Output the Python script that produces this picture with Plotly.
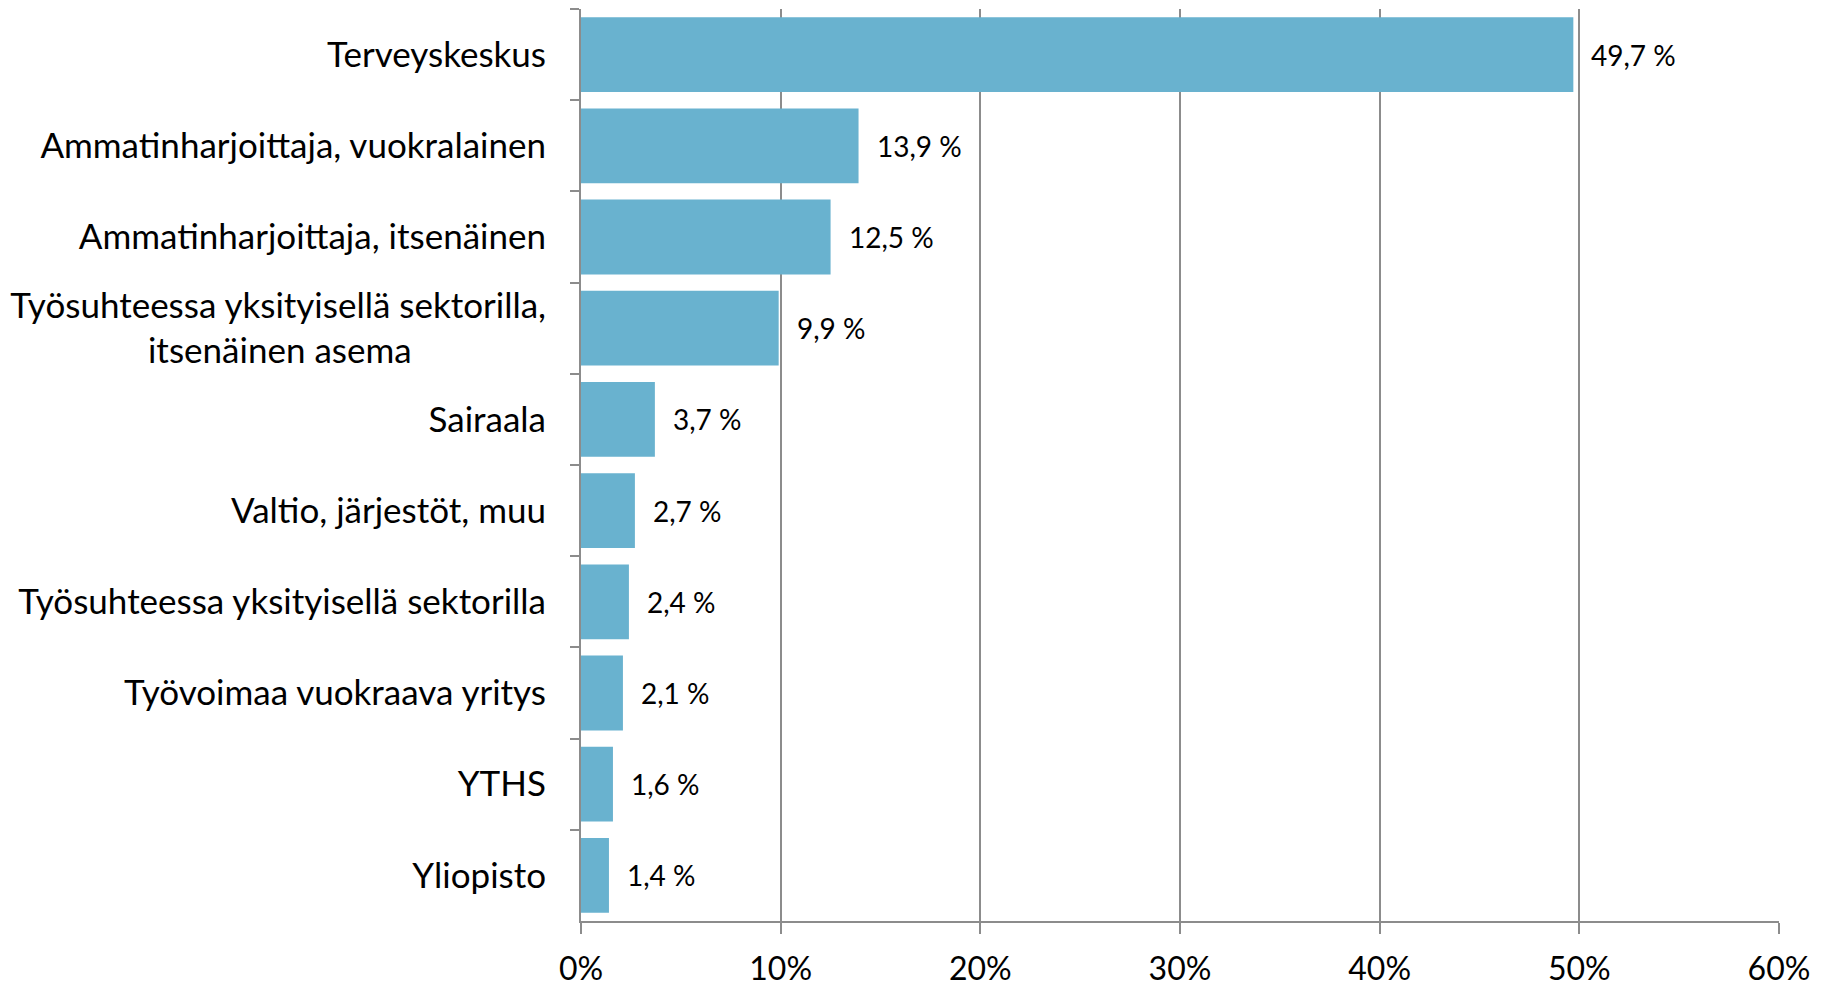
import plotly.graph_objects as go

categories = [
    "Terveyskeskus",
    "Ammatinharjoittaja, vuokralainen",
    "Ammatinharjoittaja, itsenäinen",
    "Työsuhteessa yksityisellä sektorilla,<br>itsenäinen asema" + "\u00a0" * 15,
    "Sairaala",
    "Valtio, järjestöt, muu",
    "Työsuhteessa yksityisellä sektorilla",
    "Työvoimaa vuokraava yritys",
    "YTHS",
    "Yliopisto",
]
values = [49.7, 13.9, 12.5, 9.9, 3.7, 2.7, 2.4, 2.1, 1.6, 1.4]
x_ticks = [0, 10, 20, 30, 40, 50, 60]
x_tick_labels = ["0%", "10%", "20%", "30%", "40%", "50%", "60%"]

FONT = "Lato, 'Open Sans', sans-serif"
GRID = "#8c8c8c"

fig = go.Figure(go.Bar(
    x=values,
    y=categories,
    orientation="h",
    marker=dict(color="#69b2cf", line=dict(width=0)),
    width=0.82,
    hoverinfo="skip",
))

# value labels just right of each bar
for c, v in zip(categories, values):
    fig.add_annotation(
        x=v, y=c, text=f"{v:.1f} %".replace(".", ","),
        xanchor="left", xshift=16, showarrow=False,
        font=dict(family=FONT, size=28, color="#000000"),
    )

# page body has an 8px margin, so keep the figure 8px smaller to avoid overflow
fig.update_layout(
    width=1821, height=979,
    margin=dict(l=573, r=50, t=1, b=66),
    plot_bgcolor="white", paper_bgcolor="white",
    showlegend=False,
    font=dict(family=FONT, size=35, color="#000000"),
)
fig.update_xaxes(
    range=[0, 60], tickvals=x_ticks, ticktext=x_tick_labels,
    showgrid=True, gridcolor=GRID, gridwidth=2,
    showline=True, linecolor=GRID, linewidth=2,
    ticks="outside", ticklen=11, tickcolor=GRID, tickwidth=2,
    ticklabelstandoff=8, zeroline=False, automargin=False,
    tickfont=dict(family=FONT, size=32),
)
fig.update_yaxes(
    autorange="reversed", categoryorder="array", categoryarray=categories,
    showline=True, linecolor=GRID, linewidth=2,
    ticks="outside", tickson="boundaries", ticklen=9, tickcolor=GRID, tickwidth=2,
    ticklabelstandoff=26, showgrid=False, automargin=False,
    tickfont=dict(family=FONT, size=35),
)

fig.write_html("out.html")
